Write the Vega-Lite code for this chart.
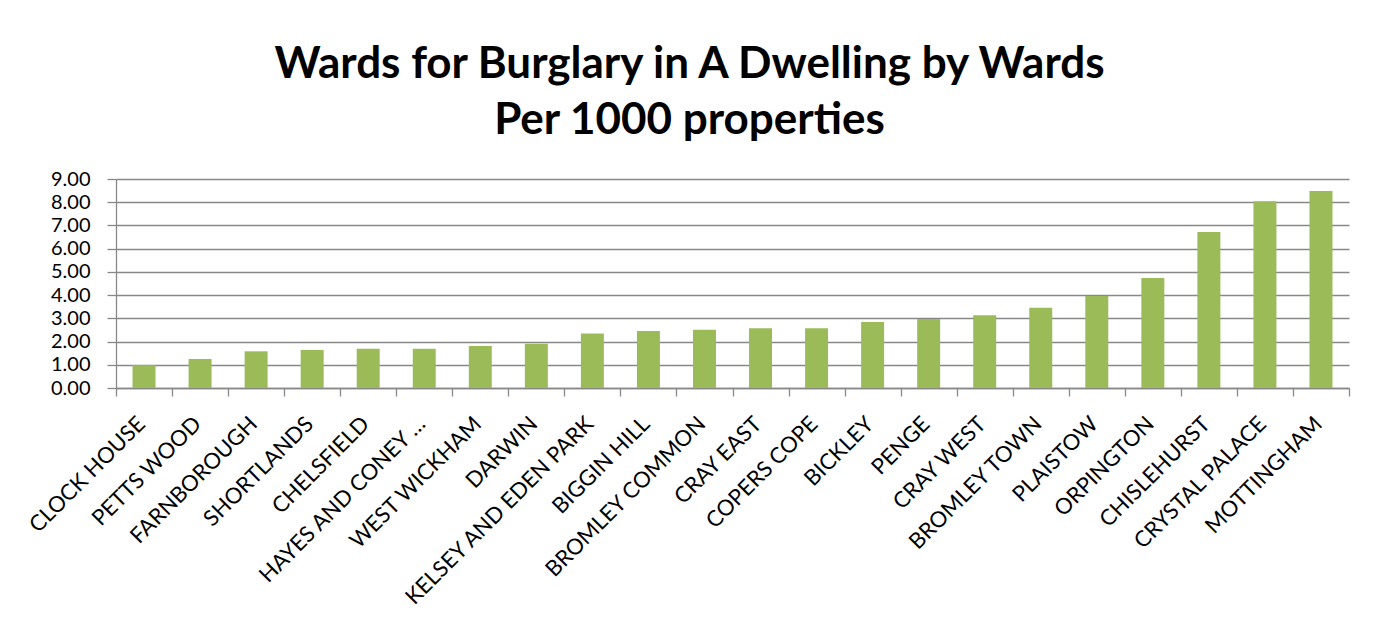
{
  "$schema": "https://vega.github.io/schema/vega-lite/v6.json",
  "autosize": "none",
  "width": 1233,
  "height": 209,
  "padding": {"left": 116, "top": 179, "right": 30, "bottom": 238},
  "background": "white",
  "title": {
    "text": ["Wards for Burglary in A Dwelling by Wards", "Per 1000 properties"],
    "font": "Lato",
    "fontSize": 44,
    "fontWeight": "bold",
    "color": "black",
    "lineHeight": 56,
    "anchor": "middle",
    "frame": "group",
    "dx": -43,
    "offset": 26
  },
  "data": {
    "values": [
      {"ward": "CLOCK HOUSE", "rate": 0.98},
      {"ward": "PETTS WOOD", "rate": 1.25},
      {"ward": "FARNBOROUGH", "rate": 1.58},
      {"ward": "SHORTLANDS", "rate": 1.64},
      {"ward": "CHELSFIELD", "rate": 1.69},
      {"ward": "HAYES AND CONEY HALL", "rate": 1.69},
      {"ward": "WEST WICKHAM", "rate": 1.81},
      {"ward": "DARWIN", "rate": 1.91},
      {"ward": "KELSEY AND EDEN PARK", "rate": 2.35},
      {"ward": "BIGGIN HILL", "rate": 2.45},
      {"ward": "BROMLEY COMMON", "rate": 2.51},
      {"ward": "CRAY EAST", "rate": 2.57},
      {"ward": "COPERS COPE", "rate": 2.57},
      {"ward": "BICKLEY", "rate": 2.84},
      {"ward": "PENGE", "rate": 2.97},
      {"ward": "CRAY WEST", "rate": 3.13},
      {"ward": "BROMLEY TOWN", "rate": 3.46},
      {"ward": "PLAISTOW", "rate": 3.96},
      {"ward": "ORPINGTON", "rate": 4.74},
      {"ward": "CHISLEHURST", "rate": 6.72},
      {"ward": "CRYSTAL PALACE", "rate": 8.04},
      {"ward": "MOTTINGHAM", "rate": 8.48}
    ]
  },
  "mark": {"type": "bar", "color": "#9BBB59", "width": {"band": 0.41}},
  "encoding": {
    "x": {
      "field": "ward",
      "type": "nominal",
      "sort": null,
      "scale": {"paddingInner": 0, "paddingOuter": 0},
      "axis": {
        "title": null,
        "tickBand": "extent",
        "tickSize": 8,
        "tickColor": "#888888",
        "tickWidth": 1.3,
        "domainColor": "#888888",
        "domainWidth": 1.3,
        "labelAngle": -45,
        "labelAlign": "right",
        "labelBaseline": "middle",
        "labelFont": "Lato",
        "labelFontSize": 22,
        "labelColor": "black",
        "labelPadding": 24,
        "labelOffset": -3,
        "labelLimit": 400,
        "labelExpr": "datum.value == 'HAYES AND CONEY HALL' ? 'HAYES AND CONEY …' : datum.label"
      }
    },
    "y": {
      "field": "rate",
      "type": "quantitative",
      "scale": {"domain": [0, 9], "nice": false},
      "axis": {
        "title": null,
        "values": [0, 1, 2, 3, 4, 5, 6, 7, 8, 9],
        "format": ".2f",
        "tickSize": 9,
        "tickColor": "#888888",
        "tickWidth": 1.3,
        "domainColor": "#888888",
        "domainWidth": 1.3,
        "gridColor": "#888888",
        "gridWidth": 1.3,
        "labelFont": "Lato",
        "labelFontSize": 20,
        "labelColor": "black",
        "labelPadding": 17
      }
    }
  },
  "config": {"view": {"stroke": null}}
}
